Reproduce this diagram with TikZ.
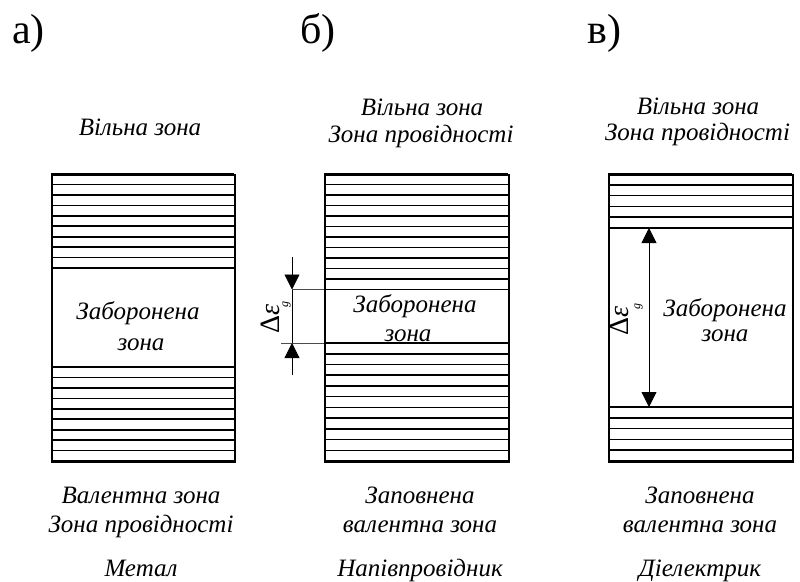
\documentclass[tikz,border=0pt]{standalone}
\usepackage{fontspec}
\setmainfont{Liberation Serif}[ItalicFont={Liberation Serif Italic}]
\usetikzlibrary{arrows.meta}
\newcommand{\gapsym}[1]{Δ\textit{ε}\kern-3pt\raisebox{#1}{\fontsize{12}{12}\selectfont\textit{g}}}
\begin{document}
\begin{tikzpicture}[x=1pt,y=-1pt,
  lbl/.style={font=\fontsize{25}{30}\selectfont\itshape, anchor=base, inner sep=0pt},
  big/.style={font=\fontsize{42}{50}\selectfont, anchor=base west, inner sep=0pt},
  band/.style={line width=1.6pt},
  frame/.style={draw, line width=2pt, inner sep=0pt, anchor=north west},
  dim/.style={line width=0.8pt},
  ext/.style={line width=0.8pt, black!70},
  tri/.style={-{Triangle[length=15pt,width=15pt]}},
  dbl/.style={{Triangle[length=15pt,width=15pt]}-{Triangle[length=15pt,width=15pt]}},
  gap/.style={font=\fontsize{28}{30}\selectfont, rotate=90, inner sep=0pt, anchor=base west},
]
\useasboundingbox (0,0) rectangle (800,581);

% panel letters
\node[big] (la) at (12,43.5) {а)};
\node[big] (lb) at (300,43.5) {б)};
\node[big] (lc) at (587,43.5) {в)};

% ---------- a) metal ----------
\foreach \i in {0,...,9} {
  \draw[band] ({51},{174+\i*10.45}) -- ({234},{174+\i*10.45});
  \draw[band] ({51},{367+\i*10.45}) -- ({234},{367+\i*10.45});
}
\node[frame, minimum width=183pt, minimum height=287pt] (boxa) at (51,174) {};

\node[lbl] (a1) at (140,135.7) {Вільна зона};
\node[lbl] (a2) at (138,319) {Заборонена};
\node[lbl] (a3) at (141,350) {зона};
\node[lbl] (a4) at (141,503) {Валентна зона};
\node[lbl] (a5) at (141,532) {Зона провідності};
\node[lbl] (a6) at (141,576) {Метал};

% ---------- b) semiconductor ----------
\foreach \i in {0,...,11} {
  \draw[band] ({324},{174+\i*10.5}) -- ({508},{174+\i*10.5});
  \draw[band] ({324},{343+\i*10.73}) -- ({508},{343+\i*10.73});
}
\node[frame, minimum width=184pt, minimum height=287pt] (boxb) at (324,174) {};

\coordinate (bgt) at (292,289.5);
\coordinate (bgb) at (292,343);
\coordinate (bet) at (324,289.5);
\coordinate (beb) at (324,343);
\coordinate (beb0) at (281,343);
\coordinate (bst) at (292,257);
\coordinate (bsb) at (292,375);
\draw[ext] (bgt) -- (bet);
\draw[ext] (beb0) -- (beb);
\draw[dim] (bgt) -- (bgb);
\draw[dim, tri] (bst) -- (bgt);
\draw[dim, tri] (bsb) -- (bgb);
\node[gap] (bdl) at (279,334) {\gapsym{-9pt}};

\node[lbl] (b1) at (422,115) {Вільна зона};
\node[lbl] (b2) at (421,142.7) {Зона провідності};
\node[lbl] (b3) at (415,312.7) {Заборонена};
\node[lbl] (b4) at (408,341.7) {зона};
\node[lbl] (b5) at (420,503) {Заповнена};
\node[lbl] (b6) at (420,532) {валентна зона};
\node[lbl] (b7) at (420,576) {Напівпровідник};

% ---------- c) dielectric ----------
\foreach \i in {0,...,5} {
  \draw[band] ({608},{174+\i*10.8}) -- ({792},{174+\i*10.8});
  \draw[band] ({608},{407+\i*10.8}) -- ({792},{407+\i*10.8});
}
\node[frame, minimum width=184pt, minimum height=287pt] (boxc) at (608,174) {};

\coordinate (cgt) at (649,228);
\coordinate (cgb) at (649,407);
\draw[dim, dbl] (cgt) -- (cgb);
\node[gap] (cdl) at (628,336) {\gapsym{-12pt}};

\node[lbl] (c1) at (698,114.3) {Вільна зона};
\node[lbl] (c2) at (697.5,140) {Зона провідності};
\node[lbl] (c3) at (725,316.7) {Заборонена};
\node[lbl] (c4) at (725,341.7) {зона};
\node[lbl] (c5) at (700,503) {Заповнена};
\node[lbl] (c6) at (700,532) {валентна зона};
\node[lbl] (c7) at (700,576) {Діелектрик};
\end{tikzpicture}
\end{document}
